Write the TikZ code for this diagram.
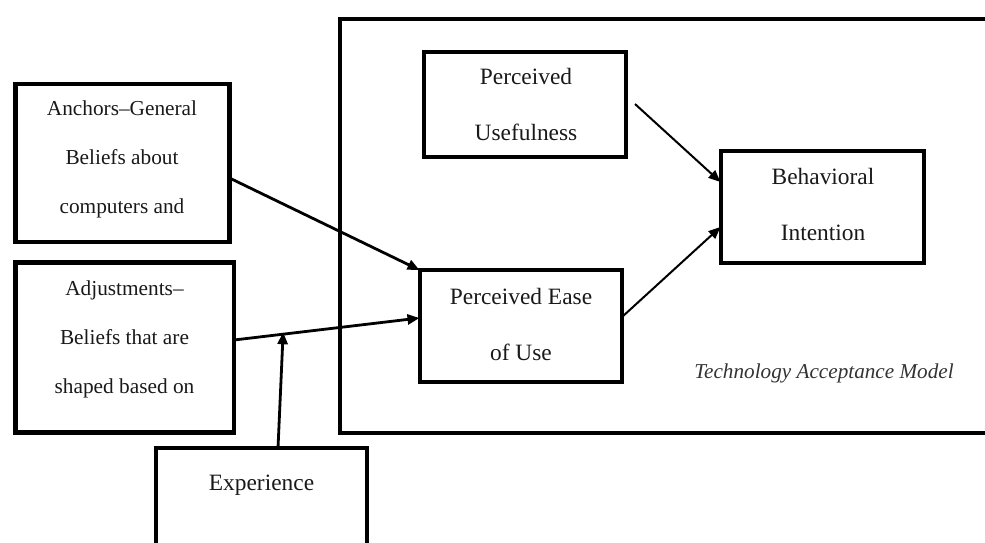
\documentclass[tikz,border=0pt]{standalone}
\usepackage{fontspec}
\setmainfont{Liberation Serif}
\usetikzlibrary{arrows.meta,calc}
\tikzset{
  boxL/.style={draw=black, line width=4.5pt, inner sep=0pt, outer sep=0pt, rectangle},
  boxT/.style={draw=black, line width=4pt, inner sep=0pt, outer sep=0pt, rectangle},
  txtL/.style={align=center, inner sep=0pt, text=black!90, font=\fontsize{21.3}{49}\selectfont},
  txtT/.style={align=center, inner sep=0pt, text=black!90, font=\fontsize{23.4}{56}\selectfont},
  arrthick/.style={line width=2.8pt, -{Triangle[length=12pt,width=10pt]}},
  arrthin/.style={line width=2pt, -{Triangle[length=12pt,width=10pt]}},
}
\begin{document}
\begin{tikzpicture}[x=1pt,y=-1pt]
\useasboundingbox (0,0) rectangle (985,542);
% boxes
\node[boxT, minimum width=660.5pt, minimum height=414pt] (tam) at (669.75,226) {};
\node[boxL, minimum width=214pt, minimum height=158pt] (anc) at (122.5,163) {};
\node[boxL, minimum width=218.5pt, minimum height=170pt] (adj) at (124.75,347.5) {};
\node[boxL, minimum width=211pt, minimum height=120pt] (exp) at (261.5,508) {};
\node[boxT, minimum width=202pt, minimum height=105pt] (pu) at (525,104) {};
\node[boxT, minimum width=203pt, minimum height=112pt] (beh) at (822,207) {};
\node[boxT, minimum width=202.5pt, minimum height=112pt] (peu) at (520.75,326) {};
% texts
\node[txtL] (anctext) at (122,159) {Anchors–General\\Beliefs about\\computers and};
\node[txtL] (adjtext) at (124.5,339) {Adjustments–\\Beliefs that are\\shaped based on};
\node[txtT, anchor=base] (exptext) at (261.5,490) {Experience};
\node[txtT] (putext) at (526,104.5) {Perceived\\Usefulness};
\node[txtT] (behtext) at (823,204) {Behavioral\\Intention};
\node[txtT] (peutext) at (521,324) {Perceived Ease\\of Use};
\node[anchor=base, inner sep=0pt, text=black!80, font=\fontsize{21.2}{25}\selectfont\itshape] (tamlabel) at (824,378) {Technology Acceptance Model};
% connectors
\draw[arrthick] ([yshift=-15pt]anc.east) -- (peu.north west);
\coordinate (a1) at ([yshift=7.5pt]adj.east);
\coordinate (p1) at ([yshift=8pt]peu.west);
\coordinate (j) at ($(a1)!0.265!(p1)$);
\draw[arrthick] (a1) -- (p1);
\draw[arrthick] ([xshift=16.5pt]exp.north) -- ([yshift=2pt]j);
\draw[arrthin] ([xshift=9pt]pu.east) -- ([yshift=25pt]beh.west);
\draw[arrthin] ([yshift=9pt]peu.east) -- ([yshift=-20pt]beh.west);
\end{tikzpicture}
\end{document}
